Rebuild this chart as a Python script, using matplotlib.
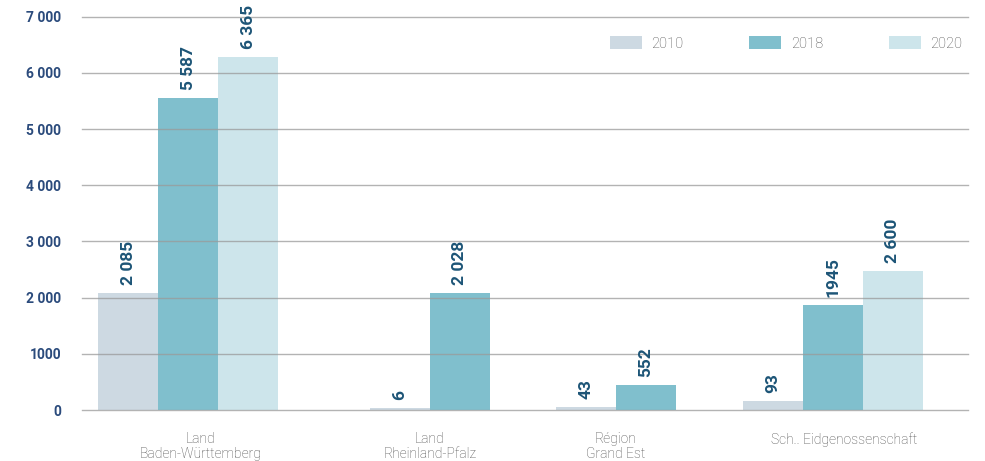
import numpy as np
import matplotlib
matplotlib.use('Agg')
import matplotlib.pyplot as plt
from matplotlib.patches import Patch

# Data (bar heights as drawn, labels as printed)
regions = ['Land\nBaden-Württemberg', 'Land\nRheinland-Pfalz', 'Région\nGrand Est', 'Sch.. Eidgenossenschaft']
years = ['2010', '2018', '2020']
heights_2010 = [2085, 35, 55, 160]
heights_2018 = [5550, 2085, 445, 1870]
heights_2020 = [6290, None, None, 2475]
labels_2010 = ['2 085', '6', '43', '93']
labels_2018 = ['5 587', '2 028', '552', '1945']
labels_2020 = ['6 365', None, None, '2 600']

colors = ['#cdd9e2', '#80bfcd', '#cde5eb']
value_color = '#1d5577'
tick_color = '#2b4b7c'
cat_color = '#4f4f4f'

# layout (in bar-width units)
group_left = [0.27, 4.8, 7.9, 11.02]
label_pos = [1.97, 5.8, 8.9, 12.7]
bar_w = 1.0

fig = plt.figure(figsize=(9.85, 4.61), dpi=100)
ax = fig.add_axes([0.0832, 0.1106, 0.8995, 0.853])

series = [(heights_2010, labels_2010), (heights_2018, labels_2018), (heights_2020, labels_2020)]
for g in range(len(regions)):
    slot = 0
    for s, (hs, ls) in enumerate(series):
        h = hs[g]
        if h is None:
            continue
        x = group_left[g] + slot * bar_w + bar_w / 2
        ax.bar(x, h, width=bar_w * 0.99, color=colors[s], zorder=1)
        ax.text(x, h + 140, ls[g], rotation=90, ha='center', va='bottom',
                fontsize=12.5, fontweight='bold', color=value_color,
                family=['Roboto', 'DejaVu Sans'])
        slot += 1

ax.set_xlim(0, 14.77)
ax.set_ylim(0, 7000)
ax.set_yticks(np.arange(0, 7001, 1000))
ax.set_yticklabels(['0', '1000', '2 000', '3 000', '4 000', '5 000', '6 000', '7 000'])
for t in ax.get_yticklabels():
    t.set_fontfamily(['Roboto', 'DejaVu Sans'])
    t.set_fontweight('bold')
    t.set_fontsize(10)
    t.set_color(tick_color)
ax.tick_params(axis='y', length=0, pad=15)

ax.set_xticks(label_pos)
ax.set_xticklabels(regions)
for t in ax.get_xticklabels():
    t.set_fontfamily(['Roboto', 'DejaVu Sans'])
    t.set_fontweight('light')
    t.set_fontsize(10)
    t.set_color(cat_color)
    t.set_linespacing(1.05)
ax.tick_params(axis='x', length=0, pad=16)

ax.grid(axis='y', color='#9a9a9a', linewidth=1, alpha=0.75, zorder=3)
for gl in ax.get_ygridlines():
    gl.set_clip_on(False)
ax.set_axisbelow(False)
for sp in ax.spines.values():
    sp.set_visible(False)

handles = [Patch(facecolor=c, edgecolor='none') for c in colors]
leg = ax.legend(handles, years, loc='upper right', bbox_to_anchor=(1.0, 0.965), ncol=3,
                frameon=False, handlelength=2.2, handleheight=1.0, handletextpad=0.65,
                columnspacing=4.5, borderaxespad=0,
                prop={'family': ['Roboto', 'DejaVu Sans'], 'weight': 'light', 'size': 10.5})
for t in leg.get_texts():
    t.set_color(cat_color)

fig.savefig('out.png', dpi=100)
